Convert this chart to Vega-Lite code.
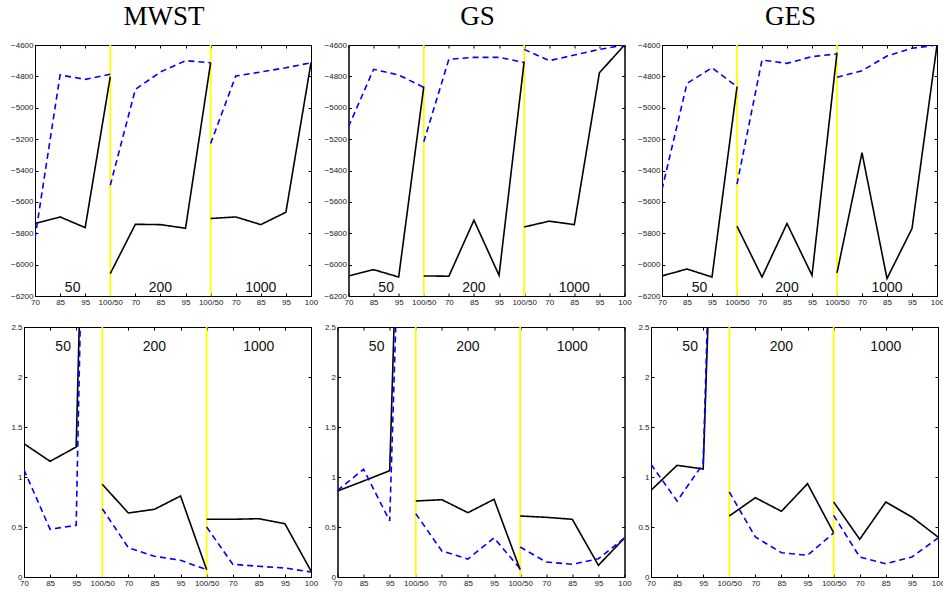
{
  "$schema": "https://vega.github.io/schema/vega-lite/v6.json",
  "padding": {"left": 4.5, "top": 2, "right": 2, "bottom": 2},
  "background": "white",
  "config": {
    "view": {"stroke": "black", "strokeWidth": 1},
    "axis": {"tickSize": -3, "tickColor": "black", "tickWidth": 1, "domainColor": "black", "domainWidth": 1, "labelFont": "Liberation Sans", "labelFontSize": 8, "labelColor": "#222", "labelPadding": 5, "grid": false}
  },
  "datasets": {
    "none": [],
    "bounds": [{"x": 3}, {"x": 7}],
    "labs": [{"x": 1.5, "t": "50"}, {"x": 5, "t": "200"}, {"x": 9, "t": "1000"}],
    "d": [
      {"pn":"t1","s":"k","g":1,"x":0,"y":-5738},{"pn":"t1","s":"k","g":1,"x":1,"y":-5696},{"pn":"t1","s":"k","g":1,"x":2,"y":-5764},{"pn":"t1","s":"k","g":1,"x":3,"y":-4802},
      {"pn":"t1","s":"k","g":2,"x":3,"y":-6057},{"pn":"t1","s":"k","g":2,"x":4,"y":-5743},{"pn":"t1","s":"k","g":2,"x":5,"y":-5745},{"pn":"t1","s":"k","g":2,"x":6,"y":-5768},{"pn":"t1","s":"k","g":2,"x":7,"y":-4713},
      {"pn":"t1","s":"k","g":3,"x":7,"y":-5706},{"pn":"t1","s":"k","g":3,"x":8,"y":-5696},{"pn":"t1","s":"k","g":3,"x":9,"y":-5745},{"pn":"t1","s":"k","g":3,"x":10,"y":-5666},{"pn":"t1","s":"k","g":3,"x":11,"y":-4713},
      {"pn":"t1","s":"b","g":1,"x":0,"y":-5830},{"pn":"t1","s":"b","g":1,"x":1,"y":-4791},{"pn":"t1","s":"b","g":1,"x":2,"y":-4819},{"pn":"t1","s":"b","g":1,"x":3,"y":-4787},
      {"pn":"t1","s":"b","g":2,"x":3,"y":-5494},{"pn":"t1","s":"b","g":2,"x":4,"y":-4883},{"pn":"t1","s":"b","g":2,"x":5,"y":-4772},{"pn":"t1","s":"b","g":2,"x":6,"y":-4700},{"pn":"t1","s":"b","g":2,"x":7,"y":-4713},
      {"pn":"t1","s":"b","g":3,"x":7,"y":-5228},{"pn":"t1","s":"b","g":3,"x":8,"y":-4798},{"pn":"t1","s":"b","g":3,"x":9,"y":-4772},{"pn":"t1","s":"b","g":3,"x":10,"y":-4745},{"pn":"t1","s":"b","g":3,"x":11,"y":-4713},

      {"pn":"t2","s":"k","g":1,"x":0,"y":-6072},{"pn":"t2","s":"k","g":1,"x":1,"y":-6032},{"pn":"t2","s":"k","g":1,"x":2,"y":-6079},{"pn":"t2","s":"k","g":1,"x":3,"y":-4866},
      {"pn":"t2","s":"k","g":2,"x":3,"y":-6072},{"pn":"t2","s":"k","g":2,"x":4,"y":-6074},{"pn":"t2","s":"k","g":2,"x":5,"y":-5717},{"pn":"t2","s":"k","g":2,"x":6,"y":-6068},{"pn":"t2","s":"k","g":2,"x":7,"y":-4706},
      {"pn":"t2","s":"k","g":3,"x":7,"y":-5760},{"pn":"t2","s":"k","g":3,"x":8,"y":-5723},{"pn":"t2","s":"k","g":3,"x":9,"y":-5745},{"pn":"t2","s":"k","g":3,"x":10,"y":-4777},{"pn":"t2","s":"k","g":3,"x":11,"y":-4600},
      {"pn":"t2","s":"b","g":1,"x":0,"y":-5121},{"pn":"t2","s":"b","g":1,"x":1,"y":-4755},{"pn":"t2","s":"b","g":1,"x":2,"y":-4791},{"pn":"t2","s":"b","g":1,"x":3,"y":-4870},
      {"pn":"t2","s":"b","g":2,"x":3,"y":-5217},{"pn":"t2","s":"b","g":2,"x":4,"y":-4691},{"pn":"t2","s":"b","g":2,"x":5,"y":-4679},{"pn":"t2","s":"b","g":2,"x":6,"y":-4679},{"pn":"t2","s":"b","g":2,"x":7,"y":-4711},
      {"pn":"t2","s":"b","g":3,"x":7,"y":-4628},{"pn":"t2","s":"b","g":3,"x":8,"y":-4700},{"pn":"t2","s":"b","g":3,"x":9,"y":-4664},{"pn":"t2","s":"b","g":3,"x":10,"y":-4628},{"pn":"t2","s":"b","g":3,"x":11,"y":-4600},

      {"pn":"t3","s":"k","g":1,"x":0,"y":-6072},{"pn":"t3","s":"k","g":1,"x":1,"y":-6028},{"pn":"t3","s":"k","g":1,"x":2,"y":-6079},{"pn":"t3","s":"k","g":1,"x":3,"y":-4866},
      {"pn":"t3","s":"k","g":2,"x":3,"y":-5755},{"pn":"t3","s":"k","g":2,"x":4,"y":-6079},{"pn":"t3","s":"k","g":2,"x":5,"y":-5738},{"pn":"t3","s":"k","g":2,"x":6,"y":-6068},{"pn":"t3","s":"k","g":2,"x":7,"y":-4649},
      {"pn":"t3","s":"k","g":3,"x":7,"y":-6053},{"pn":"t3","s":"k","g":3,"x":8,"y":-5287},{"pn":"t3","s":"k","g":3,"x":9,"y":-6089},{"pn":"t3","s":"k","g":3,"x":10,"y":-5770},{"pn":"t3","s":"k","g":3,"x":11,"y":-4600},
      {"pn":"t3","s":"b","g":1,"x":0,"y":-5521},{"pn":"t3","s":"b","g":1,"x":1,"y":-4845},{"pn":"t3","s":"b","g":1,"x":2,"y":-4745},{"pn":"t3","s":"b","g":1,"x":3,"y":-4866},
      {"pn":"t3","s":"b","g":2,"x":3,"y":-5487},{"pn":"t3","s":"b","g":2,"x":4,"y":-4696},{"pn":"t3","s":"b","g":2,"x":5,"y":-4717},{"pn":"t3","s":"b","g":2,"x":6,"y":-4674},{"pn":"t3","s":"b","g":2,"x":7,"y":-4657},
      {"pn":"t3","s":"b","g":3,"x":7,"y":-4806},{"pn":"t3","s":"b","g":3,"x":8,"y":-4764},{"pn":"t3","s":"b","g":3,"x":9,"y":-4670},{"pn":"t3","s":"b","g":3,"x":10,"y":-4621},{"pn":"t3","s":"b","g":3,"x":11,"y":-4600},

      {"pn":"b1","s":"k","g":1,"x":0,"y":1.333},{"pn":"b1","s":"k","g":1,"x":1,"y":1.157},{"pn":"b1","s":"k","g":1,"x":2,"y":1.30},{"pn":"b1","s":"k","g":1,"x":3,"y":11.7},
      {"pn":"b1","s":"k","g":2,"x":3,"y":0.927},{"pn":"b1","s":"k","g":2,"x":4,"y":0.64},{"pn":"b1","s":"k","g":2,"x":5,"y":0.677},{"pn":"b1","s":"k","g":2,"x":6,"y":0.81},{"pn":"b1","s":"k","g":2,"x":7,"y":0.073},
      {"pn":"b1","s":"k","g":3,"x":7,"y":0.577},{"pn":"b1","s":"k","g":3,"x":8,"y":0.577},{"pn":"b1","s":"k","g":3,"x":9,"y":0.583},{"pn":"b1","s":"k","g":3,"x":10,"y":0.533},{"pn":"b1","s":"k","g":3,"x":11,"y":0.06},
      {"pn":"b1","s":"b","g":1,"x":0,"y":1.073},{"pn":"b1","s":"b","g":1,"x":1,"y":0.477},{"pn":"b1","s":"b","g":1,"x":2,"y":0.517},{"pn":"b1","s":"b","g":1,"x":3,"y":13.4},
      {"pn":"b1","s":"b","g":2,"x":3,"y":0.683},{"pn":"b1","s":"b","g":2,"x":4,"y":0.293},{"pn":"b1","s":"b","g":2,"x":5,"y":0.207},{"pn":"b1","s":"b","g":2,"x":6,"y":0.167},{"pn":"b1","s":"b","g":2,"x":7,"y":0.073},
      {"pn":"b1","s":"b","g":3,"x":7,"y":0.5},{"pn":"b1","s":"b","g":3,"x":8,"y":0.127},{"pn":"b1","s":"b","g":3,"x":9,"y":0.107},{"pn":"b1","s":"b","g":3,"x":10,"y":0.09},{"pn":"b1","s":"b","g":3,"x":11,"y":0.05},

      {"pn":"b2","s":"k","g":1,"x":0,"y":0.86},{"pn":"b2","s":"k","g":1,"x":1,"y":0.96},{"pn":"b2","s":"k","g":1,"x":2,"y":1.063},{"pn":"b2","s":"k","g":1,"x":3,"y":9.7},
      {"pn":"b2","s":"k","g":2,"x":3,"y":0.76},{"pn":"b2","s":"k","g":2,"x":4,"y":0.773},{"pn":"b2","s":"k","g":2,"x":5,"y":0.643},{"pn":"b2","s":"k","g":2,"x":6,"y":0.777},{"pn":"b2","s":"k","g":2,"x":7,"y":0.073},
      {"pn":"b2","s":"k","g":3,"x":7,"y":0.61},{"pn":"b2","s":"k","g":3,"x":8,"y":0.597},{"pn":"b2","s":"k","g":3,"x":9,"y":0.577},{"pn":"b2","s":"k","g":3,"x":10,"y":0.117},{"pn":"b2","s":"k","g":3,"x":11,"y":0.39},
      {"pn":"b2","s":"b","g":1,"x":0,"y":0.867},{"pn":"b2","s":"b","g":1,"x":1,"y":1.077},{"pn":"b2","s":"b","g":1,"x":2,"y":0.56},{"pn":"b2","s":"b","g":1,"x":3,"y":8.96},
      {"pn":"b2","s":"b","g":2,"x":3,"y":0.633},{"pn":"b2","s":"b","g":2,"x":4,"y":0.26},{"pn":"b2","s":"b","g":2,"x":5,"y":0.18},{"pn":"b2","s":"b","g":2,"x":6,"y":0.39},{"pn":"b2","s":"b","g":2,"x":7,"y":0.083},
      {"pn":"b2","s":"b","g":3,"x":7,"y":0.3},{"pn":"b2","s":"b","g":3,"x":8,"y":0.15},{"pn":"b2","s":"b","g":3,"x":9,"y":0.127},{"pn":"b2","s":"b","g":3,"x":10,"y":0.183},{"pn":"b2","s":"b","g":3,"x":11,"y":0.39},

      {"pn":"b3","s":"k","g":1,"x":0,"y":0.867},{"pn":"b3","s":"k","g":1,"x":1,"y":1.117},{"pn":"b3","s":"k","g":1,"x":2,"y":1.08},{"pn":"b3","s":"k","g":1,"x":3,"y":8.98},
      {"pn":"b3","s":"k","g":2,"x":3,"y":0.61},{"pn":"b3","s":"k","g":2,"x":4,"y":0.793},{"pn":"b3","s":"k","g":2,"x":5,"y":0.657},{"pn":"b3","s":"k","g":2,"x":6,"y":0.933},{"pn":"b3","s":"k","g":2,"x":7,"y":0.443},
      {"pn":"b3","s":"k","g":3,"x":7,"y":0.75},{"pn":"b3","s":"k","g":3,"x":8,"y":0.377},{"pn":"b3","s":"k","g":3,"x":9,"y":0.75},{"pn":"b3","s":"k","g":3,"x":10,"y":0.6},{"pn":"b3","s":"k","g":3,"x":11,"y":0.4},
      {"pn":"b3","s":"b","g":1,"x":0,"y":1.127},{"pn":"b3","s":"b","g":1,"x":1,"y":0.76},{"pn":"b3","s":"b","g":1,"x":2,"y":1.133},{"pn":"b3","s":"b","g":1,"x":3,"y":10},
      {"pn":"b3","s":"b","g":2,"x":3,"y":0.85},{"pn":"b3","s":"b","g":2,"x":4,"y":0.4},{"pn":"b3","s":"b","g":2,"x":5,"y":0.243},{"pn":"b3","s":"b","g":2,"x":6,"y":0.217},{"pn":"b3","s":"b","g":2,"x":7,"y":0.44},
      {"pn":"b3","s":"b","g":3,"x":7,"y":0.617},{"pn":"b3","s":"b","g":3,"x":8,"y":0.2},{"pn":"b3","s":"b","g":3,"x":9,"y":0.133},{"pn":"b3","s":"b","g":3,"x":10,"y":0.2},{"pn":"b3","s":"b","g":3,"x":11,"y":0.39}
    ]
  },
  "columns": 1,
  "align": "none",
  "spacing": 15,
  "concat": [
    {
      "spacing": 4.5,
      "hconcat": [
        {"width": 1, "height": 1, "view": {"stroke": null}, "data": {"name": "none"}, "mark": "point", "encoding": {}},
        {
          "width": 276, "height": 251,
          "title": {"text": "MWST", "font": "Liberation Serif", "fontSize": 27, "fontWeight": "normal", "color": "black", "offset": -11, "baseline": "alphabetic", "dx": -9},
          "layer": [
            {"data": {"name": "bounds"}, "mark": {"type": "rule", "color": "#ffff00", "strokeWidth": 1.8}, "encoding": {"x": {"field": "x", "type": "quantitative", "scale": {"domain": [0, 11], "nice": false, "zero": false}, "axis": null}}},
            {"data": {"name": "d"}, "transform": [{"filter": "datum.pn == 't1'"}], "mark": {"type": "line", "clip": true, "strokeWidth": 1.6},
             "encoding": {
               "x": {"field": "x", "type": "quantitative", "scale": {"domain": [0, 11], "nice": false, "zero": false}, "axis": {"orient": "bottom", "values": [0,1,2,3,4,5,6,7,8,9,10,11], "labelExpr": "['70','85','95','100/50','70','85','95','100/50','70','85','95','100'][datum.value]", "labelFlush": false, "labelOverlap": false, "title": null}},
               "y": {"field": "y", "type": "quantitative", "scale": {"domain": [-6200, -4600], "nice": false, "zero": false}, "axis": {"orient": "left", "values": [-6200,-6000,-5800,-5600,-5400,-5200,-5000,-4800,-4600], "format": "d", "labelOverlap": false, "title": null}},
               "color": {"field": "s", "type": "nominal", "scale": {"domain": ["k", "b"], "range": ["black", "#0000ff"]}, "legend": null},
               "strokeDash": {"field": "s", "type": "nominal", "scale": {"domain": ["k", "b"], "range": [[1, 0], [6, 4]]}, "legend": null},
               "detail": {"field": "g", "type": "nominal"}
             }},
            {"data": {"name": "labs"}, "mark": {"type": "text", "font": "Liberation Sans", "fontSize": 14, "baseline": "middle", "color": "#111"},
             "encoding": {
               "x": {"field": "x", "type": "quantitative", "scale": {"domain": [0, 11], "nice": false, "zero": false}, "axis": {"orient": "top", "values": [0,1,2,3,4,5,6,7,8,9,10,11], "labels": false, "title": null}},
               "y": {"datum": -6150, "type": "quantitative", "axis": {"orient": "right", "values": [-6200,-6000,-5800,-5600,-5400,-5200,-5000,-4800,-4600], "labels": false, "title": null}},
               "text": {"field": "t", "type": "nominal"}
             }}
          ],
          "resolve": {"axis": {"x": "independent", "y": "independent"}}
        },
        {
          "width": 276, "height": 251,
          "title": {"text": "GS", "font": "Liberation Serif", "fontSize": 27, "fontWeight": "normal", "color": "black", "offset": -11, "baseline": "alphabetic", "dx": -9},
          "layer": [
            {"data": {"name": "bounds"}, "mark": {"type": "rule", "color": "#ffff00", "strokeWidth": 1.8}, "encoding": {"x": {"field": "x", "type": "quantitative", "scale": {"domain": [0, 11], "nice": false, "zero": false}, "axis": null}}},
            {"data": {"name": "d"}, "transform": [{"filter": "datum.pn == 't2'"}], "mark": {"type": "line", "clip": true, "strokeWidth": 1.6},
             "encoding": {
               "x": {"field": "x", "type": "quantitative", "scale": {"domain": [0, 11], "nice": false, "zero": false}, "axis": {"orient": "bottom", "values": [0,1,2,3,4,5,6,7,8,9,10,11], "labelExpr": "['70','85','95','100/50','70','85','95','100/50','70','85','95','100'][datum.value]", "labelFlush": false, "labelOverlap": false, "title": null}},
               "y": {"field": "y", "type": "quantitative", "scale": {"domain": [-6200, -4600], "nice": false, "zero": false}, "axis": {"orient": "left", "values": [-6200,-6000,-5800,-5600,-5400,-5200,-5000,-4800,-4600], "format": "d", "labelOverlap": false, "title": null}},
               "color": {"field": "s", "type": "nominal", "scale": {"domain": ["k", "b"], "range": ["black", "#0000ff"]}, "legend": null},
               "strokeDash": {"field": "s", "type": "nominal", "scale": {"domain": ["k", "b"], "range": [[1, 0], [6, 4]]}, "legend": null},
               "detail": {"field": "g", "type": "nominal"}
             }},
            {"data": {"name": "labs"}, "mark": {"type": "text", "font": "Liberation Sans", "fontSize": 14, "baseline": "middle", "color": "#111"},
             "encoding": {
               "x": {"field": "x", "type": "quantitative", "scale": {"domain": [0, 11], "nice": false, "zero": false}, "axis": {"orient": "top", "values": [0,1,2,3,4,5,6,7,8,9,10,11], "labels": false, "title": null}},
               "y": {"datum": -6150, "type": "quantitative", "axis": {"orient": "right", "values": [-6200,-6000,-5800,-5600,-5400,-5200,-5000,-4800,-4600], "labels": false, "title": null}},
               "text": {"field": "t", "type": "nominal"}
             }}
          ],
          "resolve": {"axis": {"x": "independent", "y": "independent"}}
        },
        {
          "width": 275, "height": 251,
          "title": {"text": "GES", "font": "Liberation Serif", "fontSize": 27, "fontWeight": "normal", "color": "black", "offset": -11, "baseline": "alphabetic", "dx": -9},
          "layer": [
            {"data": {"name": "bounds"}, "mark": {"type": "rule", "color": "#ffff00", "strokeWidth": 1.8}, "encoding": {"x": {"field": "x", "type": "quantitative", "scale": {"domain": [0, 11], "nice": false, "zero": false}, "axis": null}}},
            {"data": {"name": "d"}, "transform": [{"filter": "datum.pn == 't3'"}], "mark": {"type": "line", "clip": true, "strokeWidth": 1.6},
             "encoding": {
               "x": {"field": "x", "type": "quantitative", "scale": {"domain": [0, 11], "nice": false, "zero": false}, "axis": {"orient": "bottom", "values": [0,1,2,3,4,5,6,7,8,9,10,11], "labelExpr": "['70','85','95','100/50','70','85','95','100/50','70','85','95','100'][datum.value]", "labelFlush": false, "labelOverlap": false, "title": null}},
               "y": {"field": "y", "type": "quantitative", "scale": {"domain": [-6200, -4600], "nice": false, "zero": false}, "axis": {"orient": "left", "values": [-6200,-6000,-5800,-5600,-5400,-5200,-5000,-4800,-4600], "format": "d", "labelOverlap": false, "title": null}},
               "color": {"field": "s", "type": "nominal", "scale": {"domain": ["k", "b"], "range": ["black", "#0000ff"]}, "legend": null},
               "strokeDash": {"field": "s", "type": "nominal", "scale": {"domain": ["k", "b"], "range": [[1, 0], [6, 4]]}, "legend": null},
               "detail": {"field": "g", "type": "nominal"}
             }},
            {"data": {"name": "labs"}, "mark": {"type": "text", "font": "Liberation Sans", "fontSize": 14, "baseline": "middle", "color": "#111"},
             "encoding": {
               "x": {"field": "x", "type": "quantitative", "scale": {"domain": [0, 11], "nice": false, "zero": false}, "axis": {"orient": "top", "values": [0,1,2,3,4,5,6,7,8,9,10,11], "labels": false, "title": null}},
               "y": {"datum": -6150, "type": "quantitative", "axis": {"orient": "right", "values": [-6200,-6000,-5800,-5600,-5400,-5200,-5000,-4800,-4600], "labels": false, "title": null}},
               "text": {"field": "t", "type": "nominal"}
             }}
          ],
          "resolve": {"axis": {"x": "independent", "y": "independent"}}
        }
      ]
    },
    {
      "spacing": 4.5,
      "hconcat": [
        {"width": 1, "height": 1, "view": {"stroke": null}, "data": {"name": "none"}, "mark": "point", "encoding": {}},
        {
          "width": 287, "height": 250,
          "layer": [
            {"data": {"name": "bounds"}, "mark": {"type": "rule", "color": "#ffff00", "strokeWidth": 1.8}, "encoding": {"x": {"field": "x", "type": "quantitative", "scale": {"domain": [0, 11], "nice": false, "zero": false}, "axis": null}}},
            {"data": {"name": "d"}, "transform": [{"filter": "datum.pn == 'b1'"}], "mark": {"type": "line", "clip": true, "strokeWidth": 1.6},
             "encoding": {
               "x": {"field": "x", "type": "quantitative", "scale": {"domain": [0, 11], "nice": false, "zero": false}, "axis": {"orient": "bottom", "values": [0,1,2,3,4,5,6,7,8,9,10,11], "labelExpr": "['70','85','95','100/50','70','85','95','100/50','70','85','95','100'][datum.value]", "labelFlush": false, "labelOverlap": false, "title": null}},
               "y": {"field": "y", "type": "quantitative", "scale": {"domain": [0, 2.5], "nice": false, "zero": false}, "axis": {"orient": "left", "values": [0, 0.5, 1, 1.5, 2, 2.5], "format": "~g", "labelOverlap": false, "title": null}},
               "color": {"field": "s", "type": "nominal", "scale": {"domain": ["k", "b"], "range": ["black", "#0000ff"]}, "legend": null},
               "strokeDash": {"field": "s", "type": "nominal", "scale": {"domain": ["k", "b"], "range": [[1, 0], [6, 4]]}, "legend": null},
               "detail": {"field": "g", "type": "nominal"}
             }},
            {"data": {"name": "labs"}, "mark": {"type": "text", "font": "Liberation Sans", "fontSize": 14, "baseline": "middle", "color": "#111"},
             "encoding": {
               "x": {"field": "x", "type": "quantitative", "scale": {"domain": [0, 11], "nice": false, "zero": false}, "axis": {"orient": "top", "values": [0,1,2,3,4,5,6,7,8,9,10,11], "labels": false, "title": null}},
               "y": {"datum": 2.3, "type": "quantitative", "axis": {"orient": "right", "values": [0, 0.5, 1, 1.5, 2, 2.5], "labels": false, "title": null}},
               "text": {"field": "t", "type": "nominal"}
             }}
          ],
          "resolve": {"axis": {"x": "independent", "y": "independent"}}
        },
        {
          "width": 287, "height": 250,
          "layer": [
            {"data": {"name": "bounds"}, "mark": {"type": "rule", "color": "#ffff00", "strokeWidth": 1.8}, "encoding": {"x": {"field": "x", "type": "quantitative", "scale": {"domain": [0, 11], "nice": false, "zero": false}, "axis": null}}},
            {"data": {"name": "d"}, "transform": [{"filter": "datum.pn == 'b2'"}], "mark": {"type": "line", "clip": true, "strokeWidth": 1.6},
             "encoding": {
               "x": {"field": "x", "type": "quantitative", "scale": {"domain": [0, 11], "nice": false, "zero": false}, "axis": {"orient": "bottom", "values": [0,1,2,3,4,5,6,7,8,9,10,11], "labelExpr": "['70','85','95','100/50','70','85','95','100/50','70','85','95','100'][datum.value]", "labelFlush": false, "labelOverlap": false, "title": null}},
               "y": {"field": "y", "type": "quantitative", "scale": {"domain": [0, 2.5], "nice": false, "zero": false}, "axis": {"orient": "left", "values": [0, 0.5, 1, 1.5, 2, 2.5], "format": "~g", "labelOverlap": false, "title": null}},
               "color": {"field": "s", "type": "nominal", "scale": {"domain": ["k", "b"], "range": ["black", "#0000ff"]}, "legend": null},
               "strokeDash": {"field": "s", "type": "nominal", "scale": {"domain": ["k", "b"], "range": [[1, 0], [6, 4]]}, "legend": null},
               "detail": {"field": "g", "type": "nominal"}
             }},
            {"data": {"name": "labs"}, "mark": {"type": "text", "font": "Liberation Sans", "fontSize": 14, "baseline": "middle", "color": "#111"},
             "encoding": {
               "x": {"field": "x", "type": "quantitative", "scale": {"domain": [0, 11], "nice": false, "zero": false}, "axis": {"orient": "top", "values": [0,1,2,3,4,5,6,7,8,9,10,11], "labels": false, "title": null}},
               "y": {"datum": 2.3, "type": "quantitative", "axis": {"orient": "right", "values": [0, 0.5, 1, 1.5, 2, 2.5], "labels": false, "title": null}},
               "text": {"field": "t", "type": "nominal"}
             }}
          ],
          "resolve": {"axis": {"x": "independent", "y": "independent"}}
        },
        {
          "width": 287, "height": 250,
          "layer": [
            {"data": {"name": "bounds"}, "mark": {"type": "rule", "color": "#ffff00", "strokeWidth": 1.8}, "encoding": {"x": {"field": "x", "type": "quantitative", "scale": {"domain": [0, 11], "nice": false, "zero": false}, "axis": null}}},
            {"data": {"name": "d"}, "transform": [{"filter": "datum.pn == 'b3'"}], "mark": {"type": "line", "clip": true, "strokeWidth": 1.6},
             "encoding": {
               "x": {"field": "x", "type": "quantitative", "scale": {"domain": [0, 11], "nice": false, "zero": false}, "axis": {"orient": "bottom", "values": [0,1,2,3,4,5,6,7,8,9,10,11], "labelExpr": "['70','85','95','100/50','70','85','95','100/50','70','85','95','100'][datum.value]", "labelFlush": false, "labelOverlap": false, "title": null}},
               "y": {"field": "y", "type": "quantitative", "scale": {"domain": [0, 2.5], "nice": false, "zero": false}, "axis": {"orient": "left", "values": [0, 0.5, 1, 1.5, 2, 2.5], "format": "~g", "labelOverlap": false, "title": null}},
               "color": {"field": "s", "type": "nominal", "scale": {"domain": ["k", "b"], "range": ["black", "#0000ff"]}, "legend": null},
               "strokeDash": {"field": "s", "type": "nominal", "scale": {"domain": ["k", "b"], "range": [[1, 0], [6, 4]]}, "legend": null},
               "detail": {"field": "g", "type": "nominal"}
             }},
            {"data": {"name": "labs"}, "mark": {"type": "text", "font": "Liberation Sans", "fontSize": 14, "baseline": "middle", "color": "#111"},
             "encoding": {
               "x": {"field": "x", "type": "quantitative", "scale": {"domain": [0, 11], "nice": false, "zero": false}, "axis": {"orient": "top", "values": [0,1,2,3,4,5,6,7,8,9,10,11], "labels": false, "title": null}},
               "y": {"datum": 2.3, "type": "quantitative", "axis": {"orient": "right", "values": [0, 0.5, 1, 1.5, 2, 2.5], "labels": false, "title": null}},
               "text": {"field": "t", "type": "nominal"}
             }}
          ],
          "resolve": {"axis": {"x": "independent", "y": "independent"}}
        }
      ]
    }
  ]
}
